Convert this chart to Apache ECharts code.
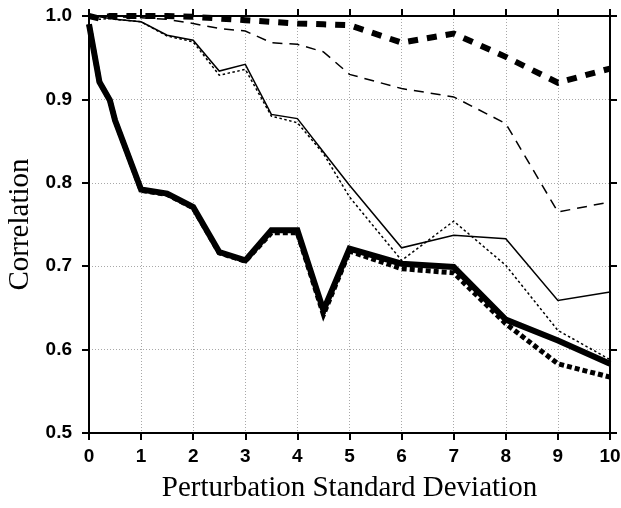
<!DOCTYPE html>
<html>
<head>
<meta charset="utf-8">
<script src="https://cdn.jsdelivr.net/npm/echarts@6/dist/echarts.min.js"></script>
<style>
  html, body { margin: 0; padding: 0; background: #fff; }
  #myChart { width: 621px; height: 508px; }
</style>
</head>
<body>
<div id="myChart"></div>
<script>
// perturbation std dev (x) shared by all curves
var xs = [0, 0.2, 0.4, 0.5, 1, 1.5, 2, 2.5, 3, 3.5, 4, 4.5, 5, 6, 7, 8, 9, 10];

var thinSolid   = [1.0, 0.999, 0.997, 0.996, 0.993, 0.977, 0.971, 0.934, 0.942, 0.882, 0.877, 0.837, 0.797, 0.722, 0.737, 0.733, 0.659, 0.669];
var thinDotted  = [1.0, 0.996, 0.997, 0.996, 0.993, 0.976, 0.969, 0.929, 0.936, 0.880, 0.872, 0.835, 0.783, 0.707, 0.754, 0.701, 0.623, 0.588];
var thinDashed  = [1.0, 1.0, 1.0, 0.999, 0.998, 0.996, 0.991, 0.985, 0.982, 0.968, 0.966, 0.957, 0.930, 0.913, 0.903, 0.871, 0.765, 0.777];
var thickDashed = [1.0, 0.997, 1.0, 1.0, 1.0, 1.0, 0.999, 0.997, 0.995, 0.993, 0.991, 0.990, 0.989, 0.968, 0.979, 0.951, 0.920, 0.937];
var thickSolid  = [0.99, 0.921, 0.899, 0.875, 0.792, 0.787, 0.771, 0.717, 0.707, 0.743, 0.743, 0.647, 0.721, 0.703, 0.699, 0.636, 0.611, 0.583];
var thickDotted = [0.99, 0.921, 0.899, 0.875, 0.791, 0.786, 0.770, 0.716, 0.706, 0.740, 0.740, 0.642, 0.718, 0.697, 0.692, 0.631, 0.583, 0.567];

var xTicks = [0, 1, 2, 3, 4, 5, 6, 7, 8, 9, 10];
var yTicks = [0.5, 0.6, 0.7, 0.8, 0.9, 1.0];

function pairs(ys) {
  return xs.map(function (x, i) { return [x, ys[i]]; });
}

function line(name, ys, width, dash) {
  return {
    name: name,
    type: "line",
    data: pairs(ys),
    symbol: "none",
    clip: false,
    animation: false,
    lineStyle: { color: "#000", width: width, type: dash, cap: "butt", join: "miter" }
  };
}

var axisLine = { show: true, onZero: false, lineStyle: { color: "#000", width: 2 } };
var tick = { show: true, inside: false, length: 7, lineStyle: { color: "#000", width: 2 } };
var grid = { show: true, lineStyle: { color: "#a8a8a8", width: 1, type: [1, 2] } };

var myChart = echarts.init(document.getElementById("myChart"));
myChart.setOption({
  backgroundColor: "#fff",
  grid: { left: 89, right: 11, top: 16, bottom: 75, containLabel: false, outerBoundsMode: "none" },
  xAxis: [
    {
      type: "value", min: xTicks[0], max: xTicks[xTicks.length - 1], interval: 1,
      name: "Perturbation Standard Deviation",
      nameLocation: "middle", nameGap: 41,
      nameTextStyle: { fontFamily: "Liberation Serif", fontSize: 29, color: "#000" },
      axisLine: axisLine, axisTick: tick, splitLine: grid,
      axisLabel: { fontFamily: "Liberation Sans", fontWeight: "bold", fontSize: 19, color: "#000", margin: 14 }
    },
    {
      type: "value", position: "top", min: 0, max: 10, interval: 1,
      axisLine: axisLine, axisTick: tick, splitLine: { show: false }, axisLabel: { show: false }
    }
  ],
  yAxis: [
    {
      type: "value", min: yTicks[0], max: yTicks[yTicks.length - 1], interval: 0.1,
      name: "Correlation",
      nameLocation: "middle", nameGap: 53,
      nameTextStyle: { fontFamily: "Liberation Serif", fontSize: 29, color: "#000" },
      axisLine: axisLine, axisTick: tick, splitLine: grid,
      axisLabel: {
        fontFamily: "Liberation Sans", fontWeight: "bold", fontSize: 19, color: "#000", margin: 17,
        formatter: function (v) { return v.toFixed(1); }
      }
    },
    {
      type: "value", position: "right", min: 0.5, max: 1.0, interval: 0.1,
      axisLine: axisLine, axisTick: tick, splitLine: { show: false }, axisLabel: { show: false }
    }
  ],
  series: [
    line("thin dashed", thinDashed, 1.5, [10, 7]),
    line("thin dotted", thinDotted, 1.5, [2.5, 2.5]),
    line("thin solid", thinSolid, 1.5, "solid"),
    line("thick dashed", thickDashed, 6, [10, 9]),
    line("thick dotted", thickDotted, 5, [5, 3]),
    line("thick solid", thickSolid, 6, "solid")
  ]
});
</script>
</body>
</html>
